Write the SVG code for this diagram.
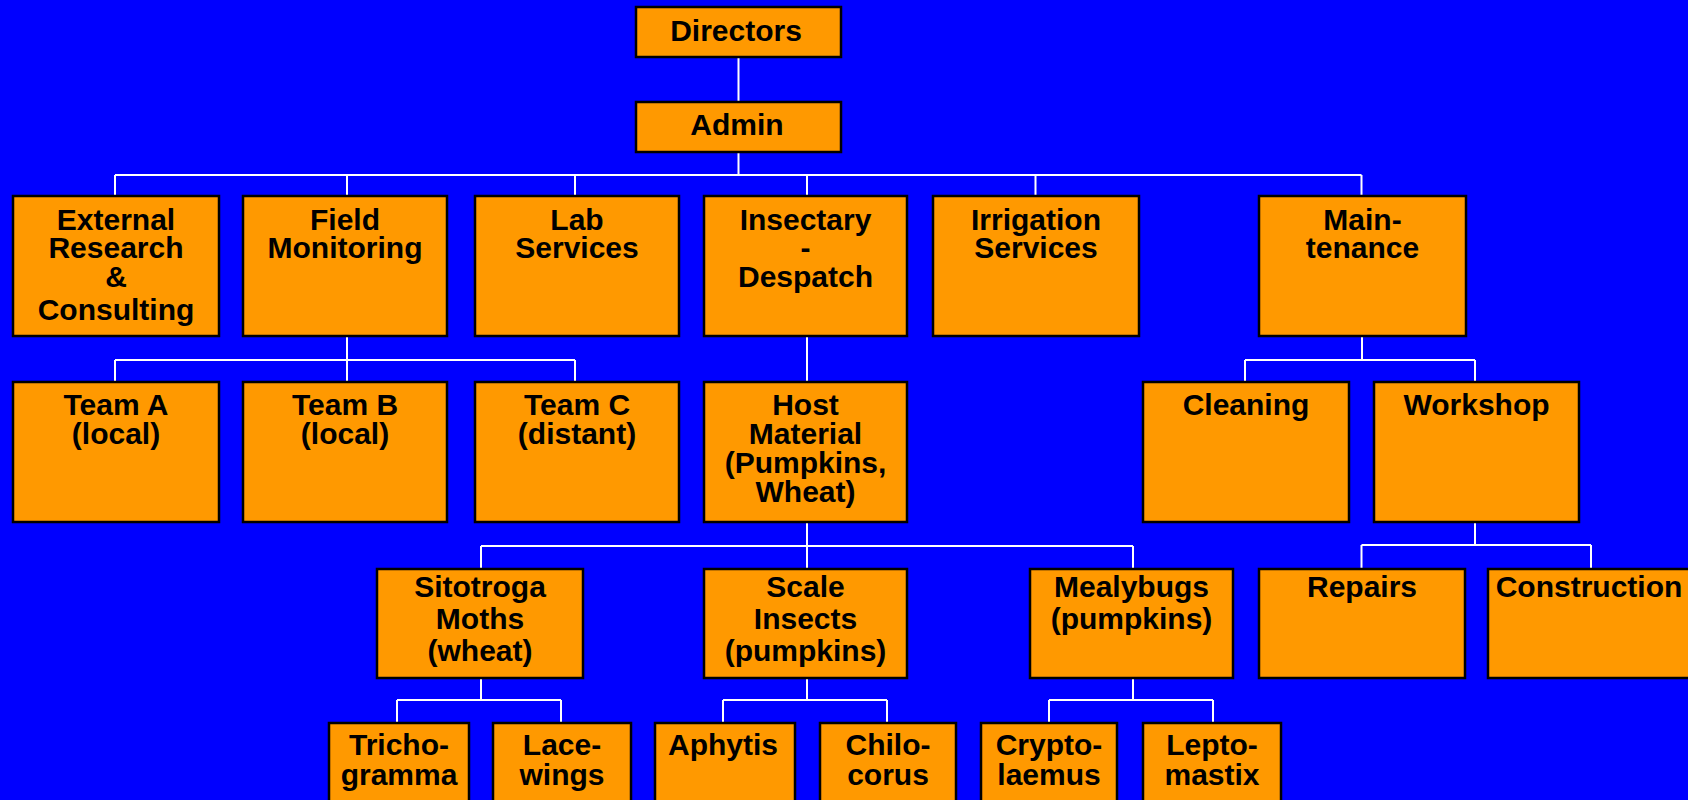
<svg xmlns="http://www.w3.org/2000/svg" width="1688" height="800" viewBox="0 0 1688 800">
<style>
.bx{fill:#FF9900;stroke:#000;stroke-width:2.5}
.t{font-family:"Liberation Sans",Arial,sans-serif;font-weight:bold;font-size:30px;fill:#000;text-anchor:middle}
.c{stroke:#fff;stroke-width:2;fill:none}
</style>
<rect width="1688" height="800" fill="#0000FF"/>
<g id="connectors">
<path class="c" d="M738.5 57V102 M738.5 152V175 M115 175H1361.5 M115 175V196 M347 175V196 M575 175V196 M807 175V196 M1035.5 175V196 M1361.5 175V196"/>
<path class="c" d="M347 336V360 M115 360H575 M115 360V382 M347 360V382 M575 360V382 M807 336V382"/>
<path class="c" d="M1362 336V360 M1245 360H1475 M1245 360V382 M1475 360V382"/>
<path class="c" d="M807 522V569 M481 546H1133 M481 546V569 M1133 546V569"/>
<path class="c" d="M1475 522V545 M1361.5 545H1591 M1361.5 545V569 M1591 545V569"/>
<path class="c" d="M481 678V700 M397 700H561 M397 700V723 M561 700V723"/>
<path class="c" d="M807 678V700 M723 700H887 M723 700V723 M887 700V723"/>
<path class="c" d="M1133 678V700 M1049 700H1213 M1049 700V723 M1213 700V723"/>
</g>
<g id="directors"><rect class="bx" x="636" y="7" width="205" height="50"/><text class="t" x="736" y="41">Directors</text></g>
<g id="admin"><rect class="bx" x="636" y="102" width="205" height="50"/><text class="t" x="737" y="135">Admin</text></g>
<g id="external"><rect class="bx" x="13" y="196" width="206" height="140"/><text class="t" x="116" y="229.5">External<tspan x="116" dy="28.5">Research</tspan><tspan x="116" dy="29">&amp;</tspan><tspan x="116" dy="33">Consulting</tspan></text></g>
<g id="field"><rect class="bx" x="243" y="196" width="204" height="140"/><text class="t" x="345" y="229.5">Field<tspan x="345" dy="28.5">Monitoring</tspan></text></g>
<g id="lab"><rect class="bx" x="475" y="196" width="204" height="140"/><text class="t" x="577" y="229.5">Lab<tspan x="577" dy="28.5">Services</tspan></text></g>
<g id="insectary"><rect class="bx" x="704" y="196" width="203" height="140"/><text class="t" x="805.5" y="229.5">Insectary<tspan x="805.5" dy="28.5">-</tspan><tspan x="805.5" dy="29">Despatch</tspan></text></g>
<g id="irrigation"><rect class="bx" x="933" y="196" width="206" height="140"/><text class="t" x="1036" y="229.5">Irrigation<tspan x="1036" dy="28.5">Services</tspan></text></g>
<g id="maintenance"><rect class="bx" x="1259" y="196" width="207" height="140"/><text class="t" x="1362.5" y="229.5">Main-<tspan x="1362.5" dy="28.5">tenance</tspan></text></g>
<g id="teamA"><rect class="bx" x="13" y="382" width="206" height="140"/><text class="t" x="116" y="415">Team A<tspan x="116" dy="29">(local)</tspan></text></g>
<g id="teamB"><rect class="bx" x="243" y="382" width="204" height="140"/><text class="t" x="345" y="415">Team B<tspan x="345" dy="29">(local)</tspan></text></g>
<g id="teamC"><rect class="bx" x="475" y="382" width="204" height="140"/><text class="t" x="577" y="415">Team C<tspan x="577" dy="29">(distant)</tspan></text></g>
<g id="host"><rect class="bx" x="704" y="382" width="203" height="140"/><text class="t" x="805.5" y="415">Host<tspan x="805.5" dy="29">Material</tspan><tspan x="805.5" dy="29">(Pumpkins,</tspan><tspan x="805.5" dy="29">Wheat)</tspan></text></g>
<g id="cleaning"><rect class="bx" x="1143" y="382" width="206" height="140"/><text class="t" x="1246" y="415">Cleaning</text></g>
<g id="workshop"><rect class="bx" x="1374" y="382" width="205" height="140"/><text class="t" x="1476.5" y="415">Workshop</text></g>
<g id="sitotroga"><rect class="bx" x="377" y="569" width="206" height="109"/><text class="t" x="480" y="597">Sitotroga<tspan x="480" dy="32">Moths</tspan><tspan x="480" dy="32">(wheat)</tspan></text></g>
<g id="scale"><rect class="bx" x="704" y="569" width="203" height="109"/><text class="t" x="805.5" y="597">Scale<tspan x="805.5" dy="32">Insects</tspan><tspan x="805.5" dy="32">(pumpkins)</tspan></text></g>
<g id="mealybugs"><rect class="bx" x="1030" y="569" width="203" height="109"/><text class="t" x="1131.5" y="597">Mealybugs<tspan x="1131.5" dy="32">(pumpkins)</tspan></text></g>
<g id="repairs"><rect class="bx" x="1259" y="569" width="206" height="109"/><text class="t" x="1362" y="597">Repairs</text></g>
<g id="construction"><rect class="bx" x="1488" y="569" width="206" height="109"/><text class="t" x="1589" y="597">Construction</text></g>
<g id="trichogramma"><rect class="bx" x="329" y="723" width="140" height="90"/><text class="t" x="399" y="755">Tricho-<tspan x="399" dy="30">gramma</tspan></text></g>
<g id="lacewings"><rect class="bx" x="493" y="723" width="138" height="90"/><text class="t" x="562" y="755">Lace-<tspan x="562" dy="30">wings</tspan></text></g>
<g id="aphytis"><rect class="bx" x="655" y="723" width="140" height="90"/><text class="t" x="723" y="755">Aphytis</text></g>
<g id="chilocorus"><rect class="bx" x="820" y="723" width="136" height="90"/><text class="t" x="888" y="755">Chilo-<tspan x="888" dy="30">corus</tspan></text></g>
<g id="cryptolaemus"><rect class="bx" x="981" y="723" width="136" height="90"/><text class="t" x="1049" y="755">Crypto-<tspan x="1049" dy="30">laemus</tspan></text></g>
<g id="leptomastix"><rect class="bx" x="1143" y="723" width="138" height="90"/><text class="t" x="1212" y="755">Lepto-<tspan x="1212" dy="30">mastix</tspan></text></g>
</svg>
